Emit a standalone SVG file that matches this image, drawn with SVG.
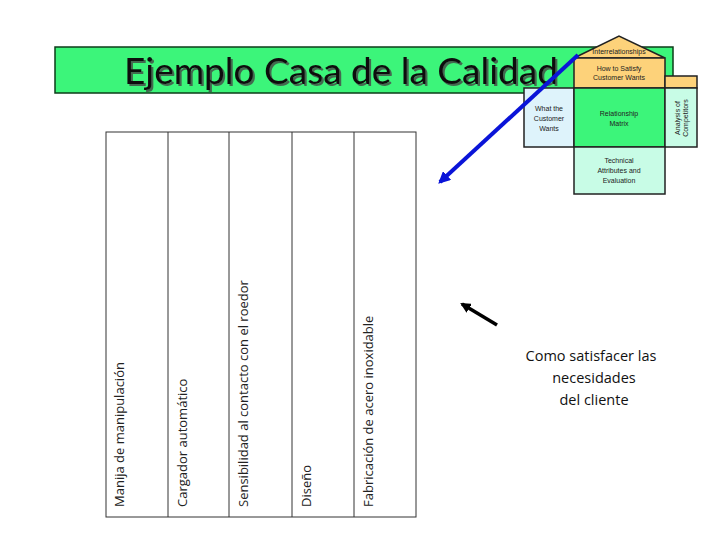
<svg xmlns="http://www.w3.org/2000/svg" width="728" height="546" viewBox="0 0 728 546">
<defs>
<marker id="ab" viewBox="0 0 10 10" refX="8" refY="5" markerWidth="3" markerHeight="3" orient="auto"><path d="M0,0L10,5L0,10z" fill="#0a14d8"/></marker>
<marker id="ak" viewBox="0 0 10 10" refX="8" refY="5" markerWidth="3" markerHeight="3" orient="auto"><path d="M0,0L10,5L0,10z" fill="#000"/></marker>
<filter id="sh" x="-5%" y="-20%" width="110%" height="140%"><feDropShadow dx="2" dy="2" stdDeviation="0.6" flood-color="#444" flood-opacity="0.8"/></filter>
</defs>
<style>
.h{stroke:#222;stroke-width:1.5}
.s{font-family:"Liberation Sans",Arial,sans-serif;font-size:7px;text-anchor:middle;fill:#222}
.c{font-family:"Open Sans","DejaVu Sans",sans-serif;font-size:13px;fill:#222}
</style>
<rect width="728" height="546" fill="#fff"/>
<g id="banner">
<rect x="55" y="47" width="618" height="46" fill="#3cf57a" stroke="#0d3d1a" stroke-width="1.5"/>
<text x="124" y="84" font-family="Lato,'Open Sans',sans-serif" font-size="37" fill="#111" filter="url(#sh)">Ejemplo Casa de la Calidad</text>
</g>
<g id="table" stroke="#333" stroke-width="1" fill="none">
<rect x="106" y="132" width="310" height="385"/>
<line x1="168" y1="132" x2="168" y2="517"/><line x1="229" y1="132" x2="229" y2="517"/>
<line x1="292" y1="132" x2="292" y2="517"/><line x1="354" y1="132" x2="354" y2="517"/>
</g>
<g id="labels" class="c">
<text transform="translate(124,507) rotate(-90)">Manija de manipulación</text>
<text transform="translate(187,507) rotate(-90)">Cargador automático</text>
<text transform="translate(248,507) rotate(-90)">Sensibilidad al contacto con el roedor</text>
<text transform="translate(311,507) rotate(-90)">Diseño</text>
<text transform="translate(373,507) rotate(-90)">Fabricación de acero inoxidable</text>
</g>
<g id="house">
<polygon class="h" points="574,58 619,36 665,58" fill="#fdd27a"/>
<rect class="h" x="574" y="58" width="91" height="30" fill="#fdd27a"/>
<rect class="h" x="665" y="76" width="32" height="12" fill="#fdd27a"/>
<rect class="h" x="524" y="88" width="50" height="59" fill="#def3fb"/>
<rect class="h" x="574" y="88" width="91" height="59" fill="#3cf57a"/>
<rect class="h" x="665" y="88" width="32" height="59" fill="#c8fce6"/>
<rect class="h" x="574" y="147" width="91" height="47" fill="#c8fce6"/>
<text class="s" x="619" y="54" font-size="5.5">Interrelationships</text>
<text class="s" x="619" y="71">How to Satisfy</text><text class="s" x="619" y="80">Customer Wants</text>
<text class="s" x="549" y="111">What the</text><text class="s" x="549" y="121">Customer</text><text class="s" x="549" y="131">Wants</text>
<text class="s" x="619" y="116">Relationship</text><text class="s" x="619" y="126">Matrix</text>
<text class="s" transform="translate(680,118) rotate(-90)">Analysis of</text>
<text class="s" transform="translate(688,118) rotate(-90)">Competitors</text>
<text class="s" x="619" y="163">Technical</text><text class="s" x="619" y="173">Attributes and</text><text class="s" x="619" y="183">Evaluation</text>
</g>
<g id="connectors">
<line x1="578" y1="55" x2="440" y2="182" stroke="#0a14d8" stroke-width="4" marker-end="url(#ab)"/>
<line x1="497" y1="325" x2="462" y2="304" stroke="#000" stroke-width="3.5" marker-end="url(#ak)"/>
</g>
<g id="note" font-family="'Open Sans','DejaVu Sans',sans-serif" font-size="14.5" text-anchor="middle" fill="#111">
<text x="591" y="361">Como satisfacer las</text>
<text x="594" y="383">necesidades</text>
<text x="594" y="405">del cliente</text>
</g>
</svg>
